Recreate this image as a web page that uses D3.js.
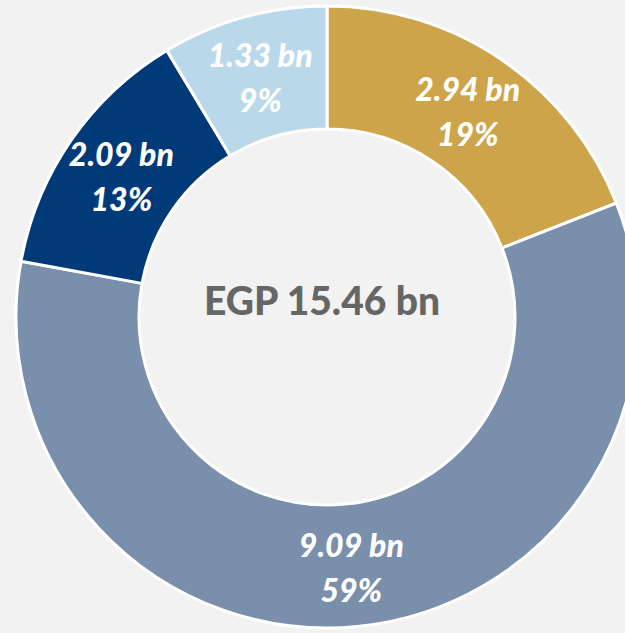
<!DOCTYPE html>
<html>
<head>
<meta charset="utf-8">
<script src="https://cdn.jsdelivr.net/npm/d3@7"></script>
<style>
  html, body { margin: 0; padding: 0; background: #f2f2f2; }
  #donut-chart { width: 625px; height: 633px; overflow: hidden; }
</style>
</head>
<body>
<div id="donut-chart"></div>
<script>
const segments = ["Gold", "Steel", "Navy", "Light"];
const amounts = [2.94, 9.09, 2.09, 1.33];
const amountLabels = ["2.94 bn", "9.09 bn", "2.09 bn", "1.33 bn"];
const shareLabels = ["19%", "59%", "13%", "9%"];
const totalLabel = "EGP 15.46 bn";
const colors = ["#cda449", "#7a8fab", "#003a78", "#b9d8ea"];

const width = 625;
const height = 633;
const cx = 327;
const cy = 317;
const outerRadius = 311;
const innerRadius = 188;

const data = segments.map((s, i) => ({
  segment: s,
  value: amounts[i],
  amount: amountLabels[i],
  share: shareLabels[i],
}));

const svg = d3
  .select("#donut-chart")
  .append("svg")
  .attr("width", width)
  .attr("height", height)
  .append("g")
  .attr("transform", `translate(${cx},${cy})`);

const color = d3.scaleOrdinal().domain(segments).range(colors);

const pie = d3.pie().value((d) => d.value).sort(null);

const arc = d3.arc().innerRadius(innerRadius).outerRadius(outerRadius);
const labelArc = d3.arc().innerRadius(250).outerRadius(250);

const arcs = pie(data);

svg
  .selectAll("path")
  .data(arcs)
  .enter()
  .append("path")
  .attr("d", arc)
  .attr("fill", (d) => color(d.data.segment))
  .attr("stroke", "#ffffff")
  .attr("stroke-width", 3);

const labels = svg
  .selectAll(".label")
  .data(arcs)
  .enter()
  .append("text")
  .attr("class", "label")
  .attr("transform", (d) => {
    const [x, y] = labelArc.centroid(d);
    return `translate(${x},${y})`;
  })
  .attr("text-anchor", "middle")
  .style("font-family", "Lato, 'Open Sans', sans-serif")
  .style("font-weight", "900")
  .style("font-style", "italic")
  .style("font-size", "32px")
  .style("fill", "#ffffff");

labels.append("tspan").attr("x", 0).attr("y", -9).text((d) => d.data.amount);
labels.append("tspan").attr("x", 0).attr("y", 36).text((d) => d.data.share);

svg
  .append("text")
  .attr("x", -5)
  .attr("y", -2)
  .attr("text-anchor", "middle")
  .style("font-family", "Lato, 'Open Sans', sans-serif")
  .style("font-weight", "900")
  .style("font-size", "39px")
  .style("fill", "#666666")
  .text(totalLabel);
</script>
</body>
</html>
